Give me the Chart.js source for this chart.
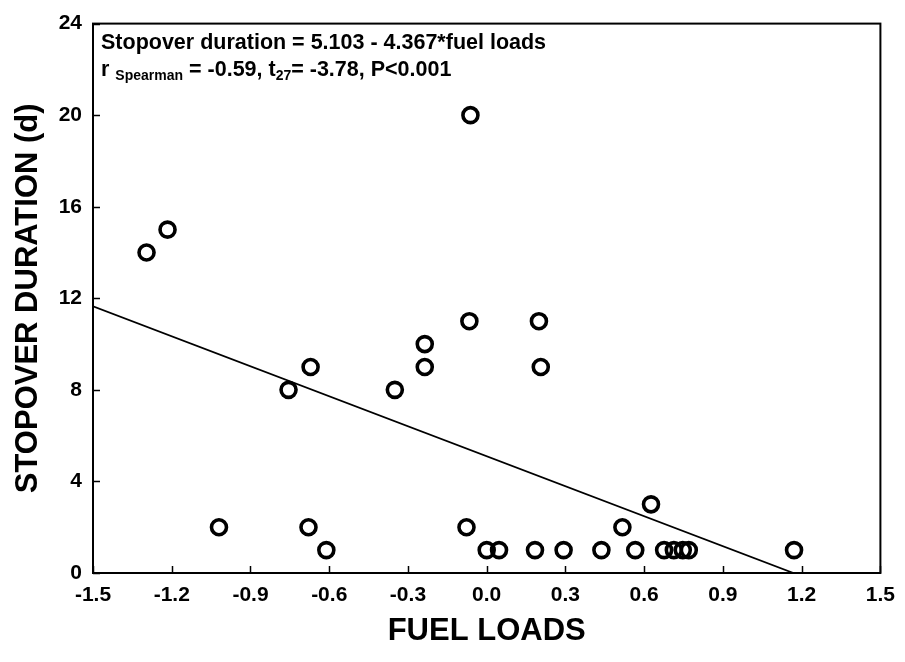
<!DOCTYPE html>
<html><head><meta charset="utf-8">
<script src="https://cdn.jsdelivr.net/npm/chart.js@4/dist/chart.umd.min.js"></script>
<style>html,body{margin:0;padding:0;background:#fff}</style>
</head><body>
<canvas id="c" width="905" height="662"></canvas>
<script>
// Data
const fuelLoads    = [-1.296, -1.216, -1.02, -0.755, -0.671, -0.679, -0.611, -0.350, -0.236, -0.236, -0.077, -0.062, -0.066, 0.000, 0.047, 0.184, 0.199, 0.206, 0.293, 0.437, 0.517, 0.566, 0.626, 0.676, 0.713, 0.747, 0.770, 1.171];
const stopoverDays = [14, 15, 2, 8, 9, 2, 1, 8, 10, 9, 2, 20, 11, 1, 1, 1, 11, 9, 1, 1, 2, 1, 3, 1, 1, 1, 1, 1];
const fitLineX = [-1.5, 1.1685];
const fitLineY = [11.654, 0];
const xTicks = [-1.5, -1.2, -0.9, -0.6, -0.3, 0.0, 0.3, 0.6, 0.9, 1.2, 1.5];
const yTicks = [0, 4, 8, 12, 16, 20, 24];
const xTitle = 'FUEL LOADS';
const yTitle = 'STOPOVER DURATION (d)';
const eqLine = 'Stopover duration = 5.103 - 4.367*fuel loads';

const FONT = "'Liberation Sans', Arial, sans-serif";

const points = fuelLoads.map((x, i) => ({x, y: stopoverDays[i]}));
const linePts = fitLineX.map((x, i) => ({x, y: fitLineY[i]}));

const framePlugin = {
  id: 'frame',
  afterDraw(chart) {
    const {ctx, chartArea: a, scales} = chart;
    ctx.save();
    ctx.strokeStyle = '#000';
    ctx.lineWidth = 2;
    ctx.strokeRect(a.left, a.top, a.right - a.left, a.bottom - a.top);
    ctx.lineWidth = 1.5;
    ctx.beginPath();
    xTicks.forEach(v => {
      const px = Math.round(scales.x.getPixelForValue(v)) + 0.5;
      ctx.moveTo(px, a.bottom); ctx.lineTo(px, a.bottom - 7);
    });
    yTicks.forEach(v => {
      const py = Math.round(scales.y.getPixelForValue(v)) + 0.5;
      ctx.moveTo(a.left, py); ctx.lineTo(a.left + 7, py);
    });
    ctx.stroke();

    // annotation text
    ctx.fillStyle = '#000';
    ctx.textBaseline = 'alphabetic';
    ctx.textAlign = 'left';
    const big = 'bold 21.5px ' + FONT, small = 'bold 14px ' + FONT;
    let x0 = a.left + 8;
    ctx.font = big;
    ctx.fillText(eqLine, x0, 49);
    const parts = [
      ['r ', big, 0], ['Spearman', small, 4], [' = -0.59, t', big, 0], ['27', small, 4], ['= -3.78, P<0.001', big, 0]
    ];
    let x = x0;
    parts.forEach(([t, f, dy]) => {
      ctx.font = f;
      ctx.fillText(t, x, 76 + dy);
      x += ctx.measureText(t).width;
    });
    ctx.restore();
  }
};

new Chart(document.getElementById('c'), {
  type: 'scatter',
  data: {
    datasets: [
      {
        data: points,
        pointStyle: 'circle',
        pointRadius: 7.5,
        pointHoverRadius: 7.5,
        borderWidth: 3.6,
        borderColor: '#000',
        backgroundColor: 'rgba(0,0,0,0)'
      },
      {
        data: linePts,
        showLine: true,
        pointRadius: 0,
        borderColor: '#000',
        borderWidth: 1.8,
        fill: false
      }
    ]
  },
  options: {
    responsive: false,
    animation: false,
    layout: {padding: {top: 20, right: 19, left: 0, bottom: 0}},
    plugins: {legend: {display: false}, tooltip: {enabled: false}},
    scales: {
      x: {
        type: 'linear', min: -1.5, max: 1.5,
        afterBuildTicks: s => { s.ticks = xTicks.map(v => ({value: v})); },
        afterFit: s => { s.height = 89; },
        grid: {display: false, drawTicks: false},
        border: {display: false},
        ticks: {
          color: '#000', padding: 10,
          font: {family: FONT, size: 21, weight: 'bold'},
          callback: v => Number(v).toFixed(1)
        },
        title: {display: true, text: xTitle, color: '#000',
          font: {family: FONT, size: 31, weight: 'bold'}, padding: {top: 0, bottom: 12}}
      },
      y: {
        type: 'linear', min: 0, max: 24,
        afterBuildTicks: s => { s.ticks = yTicks.map(v => ({value: v})); },
        afterFit: s => { s.width = 93; },
        grid: {display: false, drawTicks: false},
        border: {display: false},
        ticks: {
          color: '#000', padding: 11,
          font: {family: FONT, size: 21, weight: 'bold'}
        },
        title: {display: true, text: yTitle, color: '#000',
          font: {family: FONT, size: 31, weight: 'bold'}, padding: {top: 10, bottom: 0}}
      }
    }
  },
  plugins: [framePlugin]
});
</script>
</body></html>
